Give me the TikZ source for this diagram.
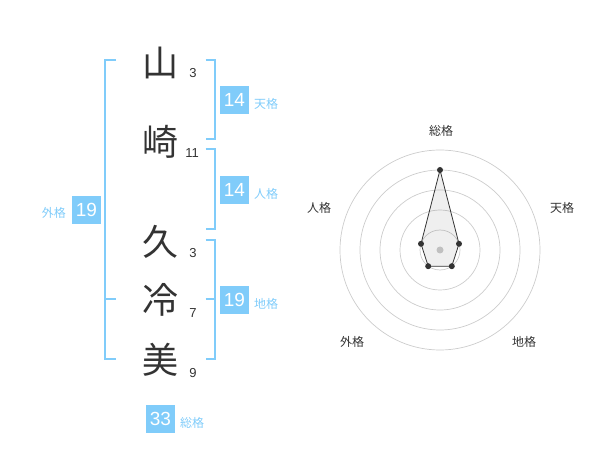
\documentclass[tikz,border=0pt]{standalone}
\usepackage{fontspec}
\usetikzlibrary{calc}
\setmainfont{Liberation Sans}
\newfontfamily\cjk{Noto Sans CJK JP}
\definecolor{kblue}{RGB}{128,204,250}
\definecolor{ktext}{RGB}{51,51,51}
\definecolor{kgrid}{RGB}{204,204,204}
\tikzset{
  kanji/.style={text=ktext,font=\cjk\fontsize{36}{36}\selectfont,inner sep=0pt},
  strokes/.style={text=ktext,font=\fontsize{13}{13}\selectfont,inner sep=0pt},
  numbox/.style={fill=kblue,text=white,minimum width=29pt,minimum height=28pt,inner sep=0pt,font=\fontsize{19}{19}\selectfont},
  kaku/.style={text=kblue,font=\cjk\fontsize{12}{12}\selectfont,inner sep=0pt},
  brk/.style={draw=kblue,line width=2pt},
  ring/.style={draw=kgrid,line width=0.7pt},
  axlabel/.style={text=ktext,font=\cjk\fontsize{12}{12}\selectfont,inner sep=0pt},
  pt/.style={circle,fill=ktext,minimum size=6pt,inner sep=0pt}
}
\begin{document}
\begin{tikzpicture}[x=1pt,y=-1pt]
\useasboundingbox (0,0) rectangle (600,470);
% kanji
\node[kanji] (k1) at (160,63) {山};
\node[kanji] (k2) at (160,142) {崎};
\node[kanji] (k3) at (160,242) {久};
\node[kanji] (k4) at (160,300) {冷};
\node[kanji] (k5) at (160,360) {美};
\node[strokes] (s1) at (193,73) {3};
\node[strokes] (s2) at (192,153) {11};
\node[strokes] (s3) at (193,253) {3};
\node[strokes] (s4) at (193,313) {7};
\node[strokes] (s5) at (193,373) {9};
% brackets
\draw[brk] (116,60) -- (105,60) -- (105,359) -- (116,359);
\draw[brk] (105,299) -- (116,299);
\draw[brk] (205.5,60) -- (214.5,60) -- (214.5,139) -- (205.5,139);
\draw[brk] (205.5,149) -- (214.5,149) -- (214.5,229) -- (205.5,229);
\draw[brk] (205.5,240) -- (214.5,240) -- (214.5,359) -- (205.5,359);
\draw[brk] (205.5,299) -- (214.5,299);
% boxes
\node[numbox] (ten) at (234.5,100) {14};
\node[kaku,anchor=west] (tenl) at (254,104) {天格};
\node[numbox] (jin) at (234.5,190) {14};
\node[kaku,anchor=west] (jinl) at (254,194) {人格};
\node[numbox] (gai) at (86.5,210) {19};
\node[kaku,anchor=east] (gail) at (66,213) {外格};
\node[numbox] (chi) at (234.5,300) {19};
\node[kaku,anchor=west] (chil) at (254,304) {地格};
\node[numbox] (sou) at (160.5,419) {33};
\node[kaku,anchor=west] (soul) at (180,423) {総格};
% radar
\coordinate (c) at (440,250);
\foreach \r in {20,40,60,80,100} \draw[ring] (c) circle[radius=\r];
\fill[kgrid] (c) circle[radius=3.5];
\coordinate (p1) at ($(c)+(0,-80)$);
\coordinate (p2) at ($(c)+(19,-6.2)$);
\coordinate (p3) at ($(c)+(11.8,16.2)$);
\coordinate (p4) at ($(c)+(-11.8,16.2)$);
\coordinate (p5) at ($(c)+(-19,-6.2)$);
\draw[fill=ktext,fill opacity=0.08,draw=ktext,line width=0.8pt] (p1) -- (p2) -- (p3) -- (p4) -- (p5) -- cycle;
\foreach \p in {p1,p2,p3,p4,p5} \node[pt] at (\p) {};
\node[axlabel] (a1) at (441,131) {総格};
\node[axlabel] (a2) at (562,208) {天格};
\node[axlabel] (a3) at (524,342) {地格};
\node[axlabel] (a4) at (352,342) {外格};
\node[axlabel] (a5) at (319,208) {人格};
\end{tikzpicture}
\end{document}
